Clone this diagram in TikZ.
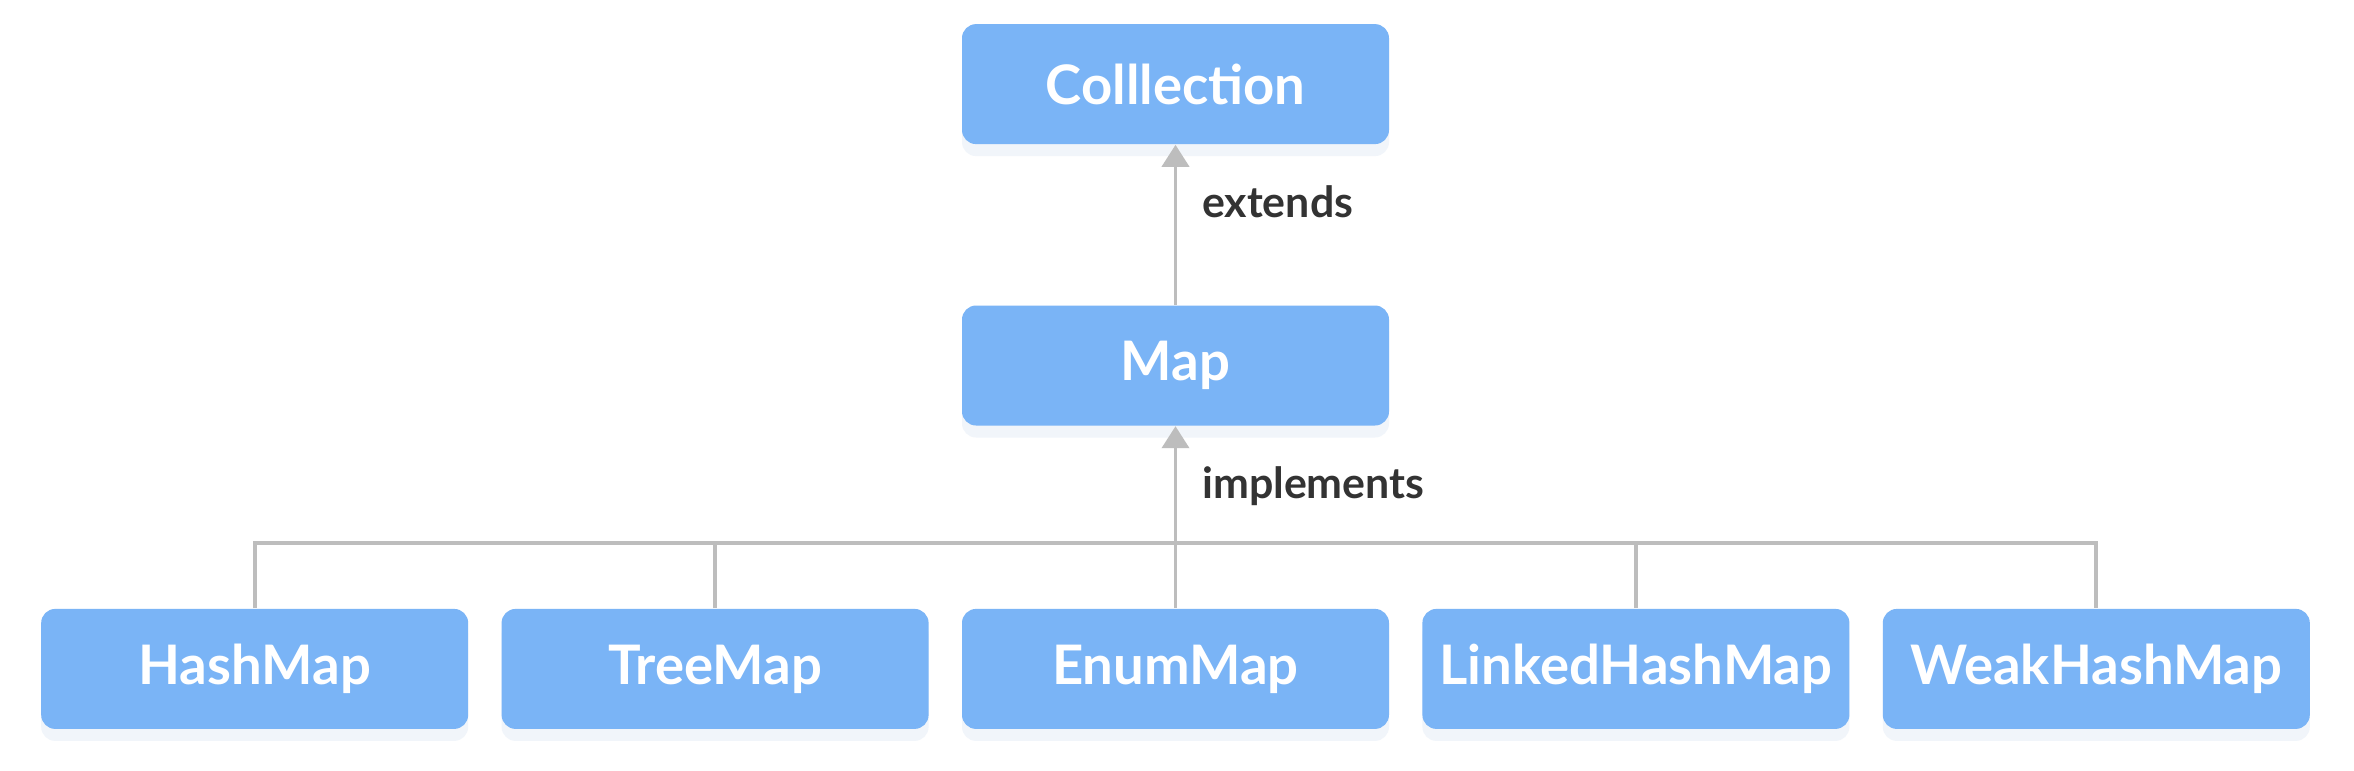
\documentclass[tikz,border=0pt]{standalone}
\usepackage{fontspec}
\setmainfont{Lato}
\usetikzlibrary{arrows.meta,calc,positioning,shadows}
\definecolor{BoxBlue}{HTML}{7AB4F6}
\definecolor{Wire}{HTML}{BDBDBD}
\definecolor{Ink}{HTML}{333333}
\definecolor{Haze}{HTML}{C8D8EE}

\begin{document}
\begin{tikzpicture}[
          node distance=0.32cm,
          box/.style={fill=BoxBlue,rounded corners=4pt,text=white,
            minimum width=4.27cm,minimum height=1.20cm,
            font=\fontsize{15.5}{18}\selectfont\bfseries,align=center,
            drop shadow={fill=Haze,opacity=0.25,shadow xshift=0cm,shadow yshift=-0.12cm}},
          lbl/.style={text=Ink,inner sep=0pt,anchor=west,
            font=\fontsize{12.2}{15}\selectfont\bfseries},
          wire/.style={draw=Wire,line width=1.1pt},
          link/.style={-{Triangle[length=2.2mm,width=2.7mm]},draw=Wire,line width=1.1pt}]
        \fill[white] (0,0) rectangle (23.54,-7.70);
        \useasboundingbox (0,0) rectangle (23.54,-7.70);
        \node[box] (map) at (11.755,-3.655) {Map};
        \node[box,above=1.60cm of map] (col) {Colllection};
        \node[box,below=1.82cm of map] (enum) {EnumMap};
        \node[box,left=of enum] (tree) {TreeMap};
        \node[box,left=of tree] (hash) {HashMap};
        \node[box,right=of enum] (linked) {LinkedHashMap};
        \node[box,right=of linked] (weak) {WeakHashMap};
        \coordinate (bus) at ($(enum.north)+(0,0.65)$);
        \draw[link] (map)--(col);
        \draw[link] (enum)--(map);
        \draw[wire] (hash.north)--(hash.north|-bus)--(weak.north|-bus)--(weak.north);
        \foreach \n in {tree,linked}
          \draw[wire] (\n.north)--(\n.north|-bus);
        \node[lbl] (ext) at ($(col.south)+(0.26,-0.57)$) {extends};
        \node[lbl] (impl) at ($(map.south)+(0.26,-0.60)$) {implements};
      \end{tikzpicture}
\end{document}
